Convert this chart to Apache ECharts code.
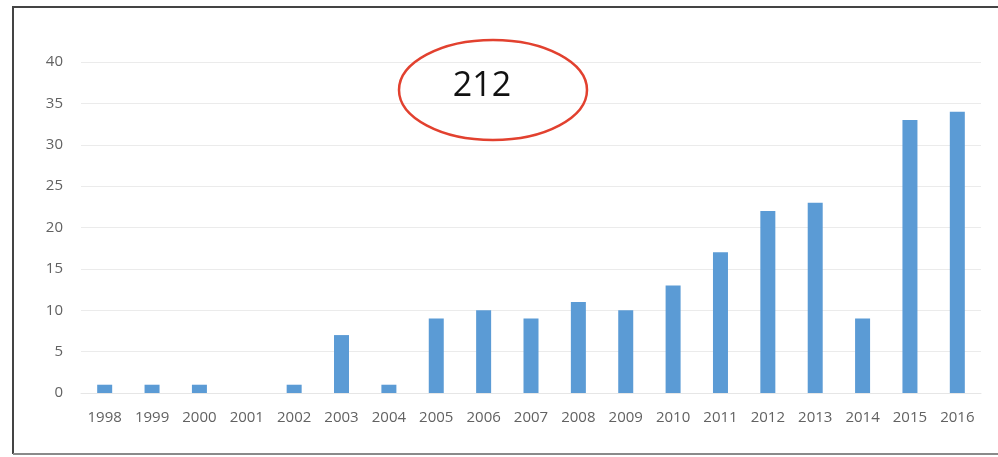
<!DOCTYPE html>
<html>
<head>
<meta charset="utf-8">
<script src="https://cdn.jsdelivr.net/npm/echarts@6/dist/echarts.min.js"></script>
<style>
  html, body { margin: 0; padding: 0; background: #fff; }
  #chart { width: 998px; height: 457px; }
</style>
</head>
<body>
<div id="chart"></div>
<script>
// Publications per year
const years = ['1998','1999','2000','2001','2002','2003','2004','2005','2006','2007',
               '2008','2009','2010','2011','2012','2013','2014','2015','2016'];
const counts = [1, 1, 1, 0, 1, 7, 1, 9, 10, 9, 11, 10, 13, 17, 22, 23, 9, 33, 34];
const totalLabel = '212';

const chart = echarts.init(document.getElementById('chart'));
const labelFont = { fontFamily: 'Open Sans', fontSize: 15, color: '#626262' };

chart.setOption({
  animation: false,
  grid: { left: 81, right: 17, top: 62, bottom: 64 },
  xAxis: {
    type: 'category',
    data: years,
    axisLine: { show: true, lineStyle: { color: '#e6e6e6', width: 1 } },
    axisTick: { show: false },
    axisLabel: Object.assign({ margin: 17 }, labelFont)
  },
  yAxis: {
    type: 'value',
    min: 0, max: 40, interval: 5,
    axisLine: { show: false },
    axisTick: { show: false },
    splitLine: { lineStyle: { color: '#ebebeb', width: 1 } },
    axisLabel: Object.assign({ margin: 18 }, labelFont)
  },
  series: [{
    type: 'bar',
    data: counts,
    barWidth: 15,
    itemStyle: { color: '#5b9bd5' }
  }],
  graphic: [
    // frame: dark top and left edges, lighter bottom edge
    {
      type: 'polyline',
      shape: { points: [[13, 454], [13, 7], [998, 7]] },
      style: { fill: 'none', stroke: '#444', lineWidth: 2 },
      z: 10
    },
    {
      type: 'line',
      shape: { x1: 13, y1: 454, x2: 998, y2: 454 },
      style: { stroke: '#8a8a8a', lineWidth: 2 },
      z: 10
    },
    {
      type: 'ellipse',
      shape: { cx: 493, cy: 90, rx: 94, ry: 50 },
      style: { fill: 'none', stroke: '#e2412f', lineWidth: 2.5 },
      z: 10
    },
    {
      type: 'text',
      x: 482, y: 86,
      style: {
        text: totalLabel,
        font: '500 34px "Open Sans"',
        fill: '#111',
        align: 'center',
        verticalAlign: 'middle'
      },
      z: 11
    }
  ]
});
</script>
</body>
</html>
